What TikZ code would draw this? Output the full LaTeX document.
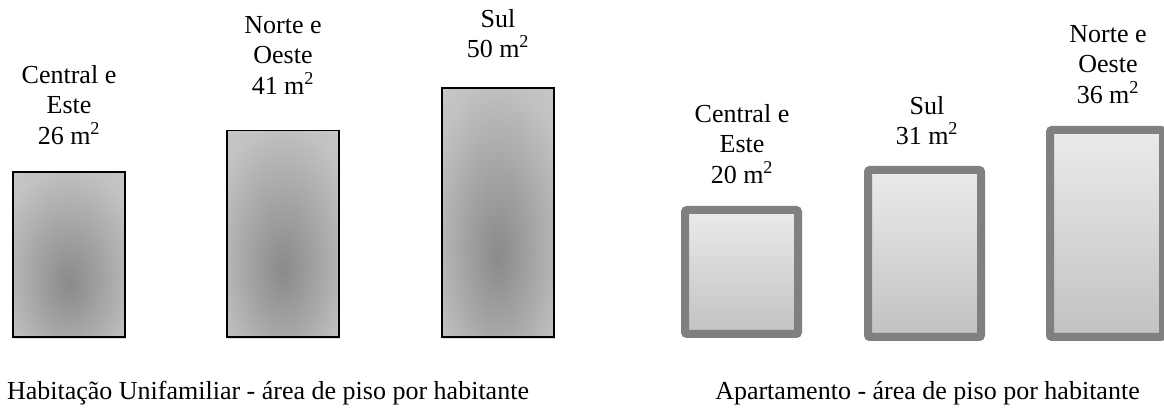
\documentclass[tikz,border=0pt]{standalone}
\usepackage{fontspec}
\setmainfont{Liberation Serif}
\usetikzlibrary{shadows}
\pgfdeclareradialshading{housefill}{\pgfpoint{0bp}{-9bp}}{color(0bp)=(black!46); color(15bp)=(black!36); color(32bp)=(black!24); color(50bp)=(black!19); color(80bp)=(black!16)}
\tikzset{
  housebox/.style={draw=black, line width=1.3pt, shading=housefill, minimum width=84.2pt, anchor=south, inner sep=0pt,
    drop shadow={shadow xshift=.6pt, shadow yshift=-1.5pt, opacity=.3}},
  flatbox/.style={draw=black!50, line width=6pt, rounded corners=1.5pt, top color=black!8, bottom color=black!24,
    minimum width=84.75pt, anchor=south, inner sep=0pt, drop shadow={shadow xshift=.6pt, shadow yshift=-1.5pt, opacity=.25}},
  boxlabel/.style={align=center, anchor=north, inner sep=0pt, font=\fontsize{19.5}{23}\selectfont},
  captiontext/.style={anchor=base, inner sep=0pt, font=\fontsize{19.5}{23}\selectfont}
}
\begin{document}
\begin{tikzpicture}[x=0.75pt, y=-0.75pt]
    \useasboundingbox (0,0) rectangle (1164,409);

    \node[housebox, minimum height=124pt] (u1) at (69,338) {};
    \node[housebox, minimum height=155pt] (u2) at (283,338) {};
    \node[housebox, minimum height=187pt] (u3) at (498,338) {};
    \node[boxlabel] (lu1) at (69,65) {Central e\\Este\\26 m\textsuperscript{2}};
    \node[boxlabel] (lu2) at (283,16) {Norte e\\Oeste\\41 m\textsuperscript{2}};
    \node[boxlabel] (lu3) at (498,9) {Sul\\50 m\textsuperscript{2}};
    \node[captiontext] (cu) at (268,400) {Habitação Unifamiliar - área de piso por habitante};

    \node[flatbox, minimum height=93pt] (a1) at (741.5,338) {};
    \node[flatbox, minimum height=125.25pt] (a2) at (924.5,341) {};
    \node[flatbox, minimum height=155.25pt] (a3) at (1106.5,341) {};
    \node[boxlabel] (la1) at (742,104) {Central e\\Este\\20 m\textsuperscript{2}};
    \node[boxlabel] (la2) at (927,96) {Sul\\31 m\textsuperscript{2}};
    \node[boxlabel] (la3) at (1108,25) {Norte e\\Oeste\\36 m\textsuperscript{2}};
    \node[captiontext] (ca) at (927.5,400) {Apartamento - área de piso por habitante};
\end{tikzpicture}
\end{document}
